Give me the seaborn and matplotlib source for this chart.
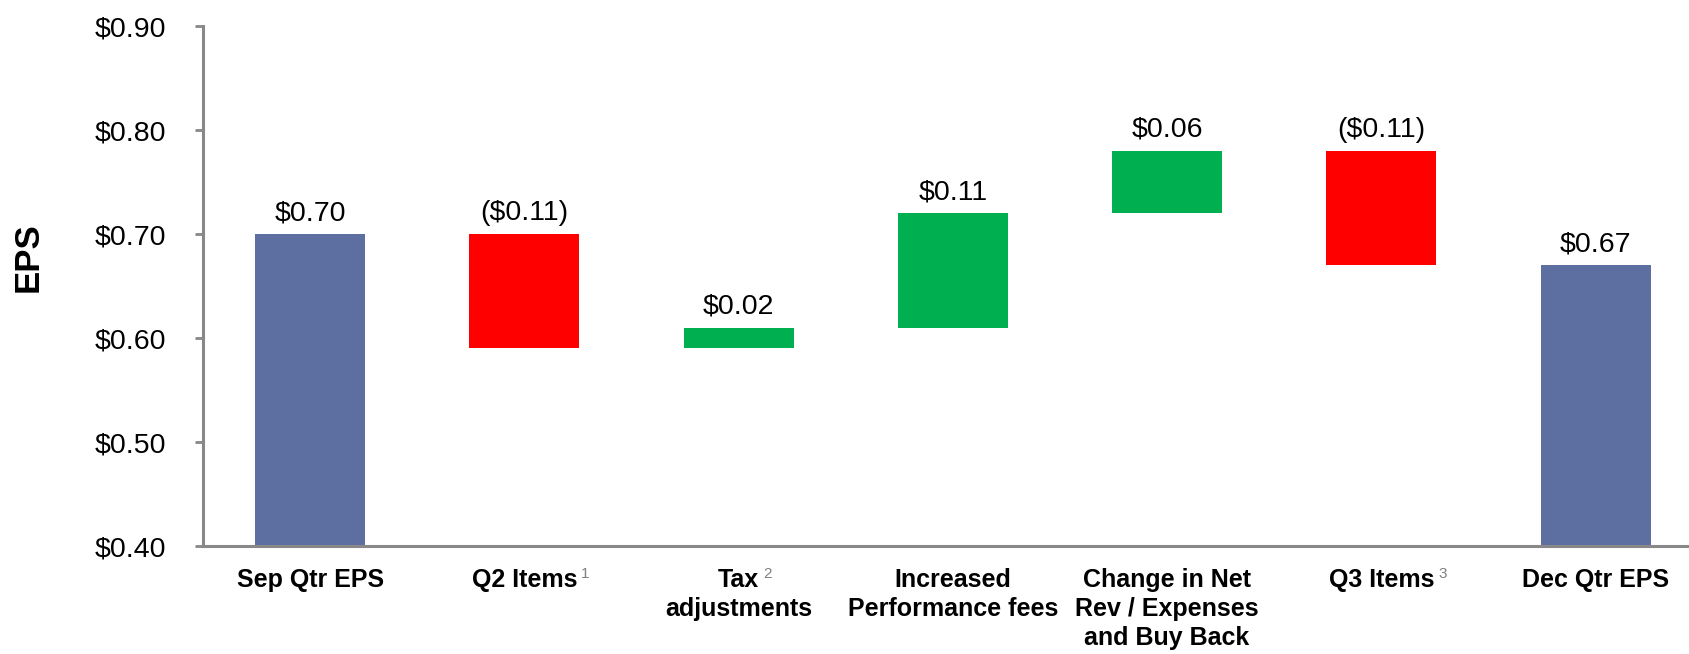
"""EPS bridge: Sep quarter to Dec quarter, drawn as a waterfall."""
import numpy as np
import pandas as pd
import seaborn as sns
import matplotlib.pyplot as plt

# ---- data ----
categories = ["Sep Qtr EPS", "Q2 Items", "Tax\nadjustments", "Increased\nPerformance fees",
              "Change in Net\nRev / Expenses\nand Buy Back", "Q3 Items", "Dec Qtr EPS"]
footnotes = ["", "1", "2", "", "", "3", ""]
changes = [0.70, -0.11, 0.02, 0.11, 0.06, -0.11, 0.67]
kinds = ["total", "step", "step", "step", "step", "step", "total"]
y_ticks = [0.40, 0.50, 0.60, 0.70, 0.80, 0.90]

BLUE = "#5D6FA1"
RED = "#FF0000"
GREEN = "#00B050"
AXIS_GREY = "#888888"

# running level -> floating bar bottoms / heights
level = 0.0
bottoms, heights, colors = [], [], []
for kind, c in zip(kinds, changes):
    if kind == "total":
        bottoms.append(0.0)
        heights.append(c)
        colors.append(BLUE)
        level = c
    else:
        new_level = level + c
        bottoms.append(min(level, new_level))
        heights.append(abs(c))
        colors.append(GREEN if c > 0 else RED)
        level = new_level

df = pd.DataFrame({"category": categories, "height": heights, "bottom": bottoms})

sns.set_style("white")
plt.rcParams["font.family"] = ["Liberation Sans", "DejaVu Sans"]
plt.rcParams["text.color"] = "black"
plt.rcParams["axes.labelcolor"] = "black"
plt.rcParams["xtick.labelcolor"] = "black"
plt.rcParams["ytick.labelcolor"] = "black"

fig = plt.figure(figsize=(16.89, 6.54), dpi=100)
ax = fig.add_axes([0.1202, 0.1651, 0.8798, 0.7951])

sns.barplot(data=df, x="category", y="height", bottom=df["bottom"].values,
            width=0.513, color=BLUE, saturation=1, errorbar=None, ax=ax)
for patch, col in zip(ax.patches, colors):
    patch.set_facecolor(col)
    patch.set_edgecolor("none")

# value labels above each bar
for i, (b, h, c) in enumerate(zip(bottoms, heights, changes)):
    txt = "${:.2f}".format(c) if c >= 0 else "(${:.2f})".format(abs(c))
    ax.annotate(txt, (i, b + h), xytext=(0, 10), textcoords="offset points",
                ha="center", va="baseline", fontsize=20.5, color="black")

ax.set_xlim(-0.5, 6.436)
ax.set_ylim(0.40, 0.90)
ax.set_yticks(y_ticks)
ax.set_yticklabels(["${:.2f}".format(v) for v in y_ticks])
ax.set_xlabel("")
ax.set_ylabel("EPS", fontsize=25, fontweight="bold", color="black")
ax.yaxis.set_label_coords(-0.1063, 0.556)

for side in ["top", "right"]:
    ax.spines[side].set_visible(False)
for side in ["left", "bottom"]:
    ax.spines[side].set_color(AXIS_GREY)
    ax.spines[side].set_linewidth(2.2)

ax.tick_params(axis="y", direction="out", length=5.8, width=2, color=AXIS_GREY,
               labelcolor="black", labelsize=20.5, pad=21, left=True)
ax.tick_params(axis="x", length=0, labelsize=18, pad=16, labelcolor="black")
for lbl in ax.get_xticklabels():
    lbl.set_fontweight("bold")
    lbl.set_linespacing(1.25)

# small grey footnote markers after the first line of some labels
fig.canvas.draw()
renderer = fig.canvas.get_renderer()
W, H = fig.bbox.width, fig.bbox.height
for lbl, fn in zip(ax.get_xticklabels(), footnotes):
    if not fn:
        continue
    first_line = lbl.get_text().split("\n")[0]
    w, h, d = renderer.get_text_width_height_descent(first_line, lbl.get_fontproperties(), ismath=False)
    bb = lbl.get_window_extent(renderer)
    cx = (bb.x0 + bb.x1) / 2
    fig.text((cx + w / 2 + 4) / W, (bb.y1 + 1) / H, fn, fontsize=11,
             color="#808080", ha="left", va="top")

fig.savefig("out.png", dpi=100)
